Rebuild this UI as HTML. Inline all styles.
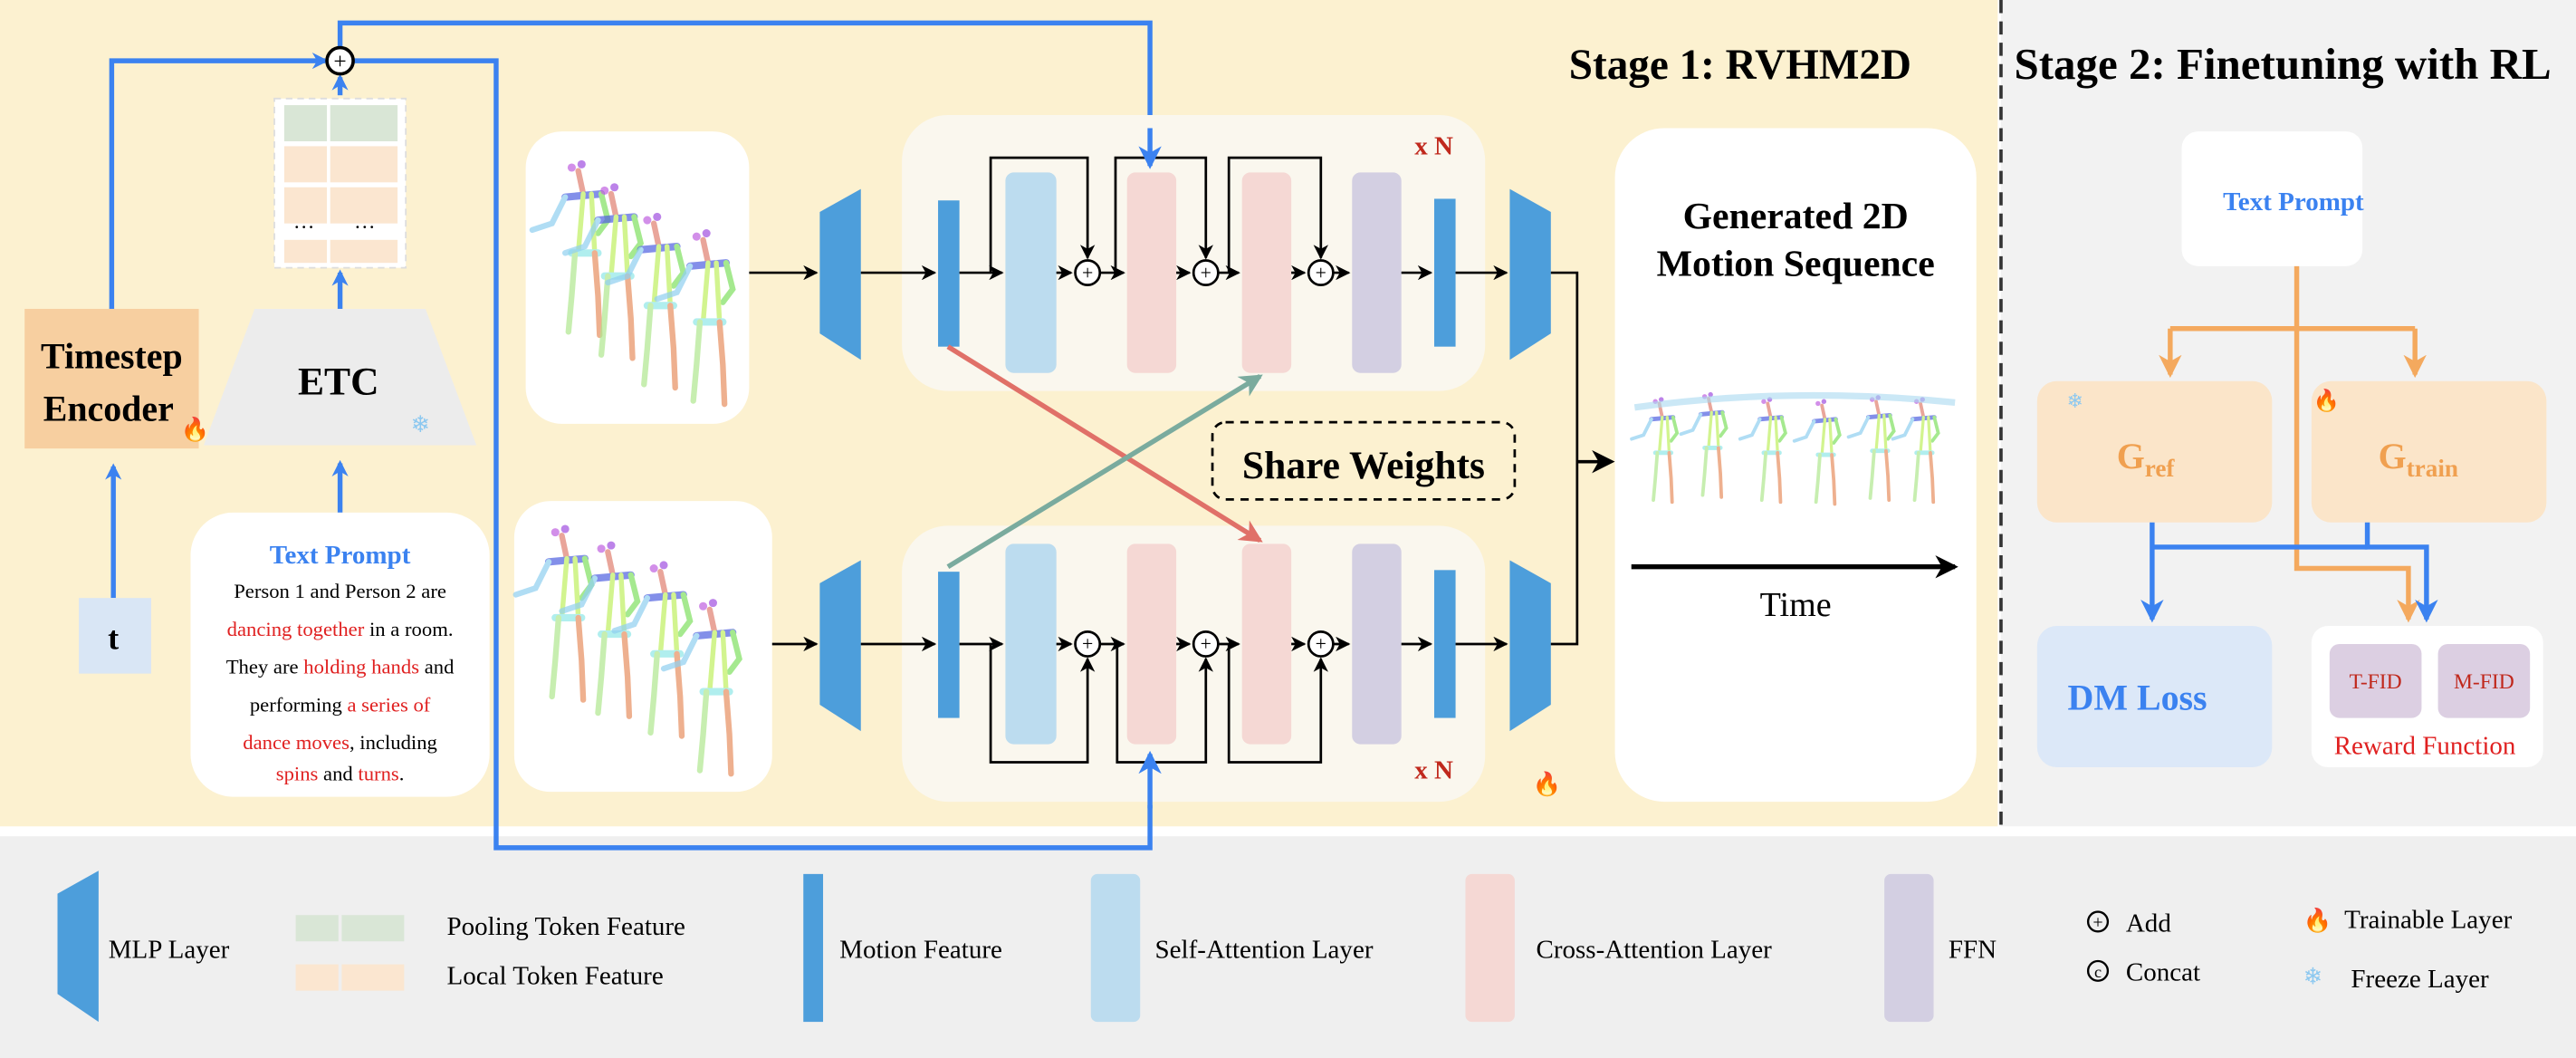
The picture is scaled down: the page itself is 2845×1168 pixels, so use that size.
<!DOCTYPE html>
<html><head><meta charset="utf-8"><style>
html,body{margin:0;padding:0;background:#fff}
svg{display:block}
text{font-family:"Liberation Serif",serif}
</style></head><body>
<svg width="2845" height="1168" viewBox="0 0 1568 644" preserveAspectRatio="none" xmlns="http://www.w3.org/2000/svg">
<defs>
<marker id="ab" markerWidth="10" markerHeight="10" refX="8" refY="5" orient="auto" markerUnits="userSpaceOnUse"><path d="M0,0 L10,5 L0,10 L3,5z" fill="#3b82f0"/></marker>
<marker id="ak" markerWidth="9" markerHeight="9" refX="8" refY="4.5" orient="auto" markerUnits="userSpaceOnUse"><path d="M0,0 L9,4.5 L0,9 L2.5,4.5z" fill="#000"/></marker>
<marker id="akb" markerWidth="14" markerHeight="14" refX="12" refY="7" orient="auto" markerUnits="userSpaceOnUse"><path d="M0,0 L14,7 L0,14 L4,7z" fill="#000"/></marker>
<marker id="ar" markerWidth="14" markerHeight="14" refX="12" refY="7" orient="auto" markerUnits="userSpaceOnUse"><path d="M0,0 L14,7 L0,14 L4,7z" fill="#e07068"/></marker>
<marker id="ag" markerWidth="14" markerHeight="14" refX="12" refY="7" orient="auto" markerUnits="userSpaceOnUse"><path d="M0,0 L14,7 L0,14 L4,7z" fill="#7aab9e"/></marker>
<marker id="ao" markerWidth="14" markerHeight="14" refX="12" refY="7" orient="auto" markerUnits="userSpaceOnUse"><path d="M0,0 L14,7 L0,14 L4,7z" fill="#f4a95e"/></marker>
<marker id="ab2" markerWidth="14" markerHeight="14" refX="12" refY="7" orient="auto" markerUnits="userSpaceOnUse"><path d="M0,0 L14,7 L0,14 L4,7z" fill="#3b82f0"/></marker>
<g id="fig" stroke-linecap="round" fill="none" opacity="0.7">
<circle cx="-4" cy="-6" r="2.5" fill="#c060e0" stroke="none"/><circle cx="2" cy="-8" r="2.5" fill="#a050e0" stroke="none"/>
<path d="M0,-4 L3,10" stroke="#e08070" stroke-width="3.5"/>
<path d="M-8,12 L14,10" stroke="#5060e0" stroke-width="4.5"/>
<path d="M-8,12 L-16,28 L-28,32" stroke="#90d0f0" stroke-width="3.5"/>
<path d="M14,10 L18,26 L12,34" stroke="#80e060" stroke-width="3.5"/>
<path d="M3,10 L0,46 M8,10 L10,46" stroke="#c0f060" stroke-width="3"/>
<path d="M-4,46 L12,46" stroke="#90e8e8" stroke-width="4.5"/>
<path d="M-2,46 L-4,72 L-6,94" stroke="#b0e890" stroke-width="3.5"/>
<path d="M10,46 L12,72 L13,96" stroke="#e89060" stroke-width="3.5"/>
</g>
</defs>
<rect x="0" y="0" width="1568" height="644" fill="#fff"/>
<rect x="0" y="0" width="1216" height="503" fill="#fcf1d0"/>
<rect x="1218" y="0" width="350" height="503" fill="#f2f2f2"/>
<line x1="1218" y1="0" x2="1218" y2="503" stroke="#333" stroke-width="2" stroke-dasharray="8,5"/>
<rect x="0" y="509" width="1568" height="135" fill="#efefef"/>

<text x="955" y="48" font-size="26" font-weight="bold">Stage 1: RVHM2D</text>
<text x="1226" y="48" font-size="27" font-weight="bold">Stage 2: Finetuning with RL</text>

<g stroke="#3b82f0" stroke-width="3" fill="none">
<path d="M68,188 L68,37 L198,37" marker-end="url(#ab)"/>
<path d="M207,29 L207,14 L700,14 L700,80"/>
<path d="M215,37 L302,37 L302,516 L700,516 L700,490"/>
<path d="M207,58 L207,47" marker-end="url(#ab)"/>
<path d="M207,188 L207,166" marker-end="url(#ab)"/>
<path d="M207,312 L207,282" marker-end="url(#ab)"/>
<path d="M69,364 L69,284" marker-end="url(#ab)"/>
</g>
<circle cx="207" cy="37" r="8" fill="#fff" stroke="#000" stroke-width="2"/>
<text x="207" y="42" font-size="14" text-anchor="middle">+</text>

<rect x="167" y="60" width="80" height="103" fill="#fff" stroke="#ddd" stroke-dasharray="4,3"/>
<rect x="173" y="64" width="26" height="22" fill="#d9e6d6"/><rect x="201" y="64" width="41" height="22" fill="#d9e6d6"/>
<rect x="173" y="89" width="26" height="22" fill="#fbe6d0"/><rect x="201" y="89" width="41" height="22" fill="#fbe6d0"/>
<rect x="173" y="114" width="26" height="22" fill="#fbe6d0"/><rect x="201" y="114" width="41" height="22" fill="#fbe6d0"/>
<text x="185" y="139" font-size="13" text-anchor="middle">…</text><text x="222" y="139" font-size="13" text-anchor="middle">…</text>
<rect x="173" y="146" width="26" height="14" fill="#fbe6d0"/><rect x="201" y="146" width="41" height="14" fill="#fbe6d0"/>

<rect x="15" y="188" width="106" height="85" fill="#f7cfa0"/>
<text x="68" y="224" font-size="22" font-weight="bold" text-anchor="middle">Timestep</text>
<text x="66" y="256" font-size="22" font-weight="bold" text-anchor="middle">Encoder</text>
<text x="110" y="266" font-size="14">🔥</text>
<path d="M155,188 L259,188 L290,271 L124,271z" fill="#ececec"/>
<text x="206" y="240" font-size="24" font-weight="bold" text-anchor="middle">ETC</text>
<text x="250" y="263" font-size="14" fill="#8cc8f0">❄</text>

<rect x="48" y="364" width="44" height="46" fill="#d9e6f5"/>
<text x="69" y="395" font-size="20" font-weight="bold" text-anchor="middle">t</text>

<rect x="116" y="312" width="182" height="173" rx="26" fill="#fff"/>
<g font-size="12.5" text-anchor="middle">
<text x="207" y="343" font-size="16" font-weight="bold" fill="#3b82f0">Text Prompt</text>
<text x="207" y="364">Person 1 and Person 2 are</text>
<text x="207" y="387"><tspan fill="#e02020">dancing together</tspan> in a room.</text>
<text x="207" y="410">They are <tspan fill="#e02020">holding hands</tspan> and</text>
<text x="207" y="433">performing <tspan fill="#e02020">a series of</tspan></text>
<text x="207" y="456"><tspan fill="#e02020">dance moves</tspan>, including</text>
<text x="207" y="475"><tspan fill="#e02020">spins</tspan> and <tspan fill="#e02020">turns</tspan>.</text>
</g>

<rect x="320" y="80" width="136" height="178" rx="22" fill="#fff"/>
<use href="#fig" x="352" y="108"/><use href="#fig" x="372" y="122"/><use href="#fig" x="398" y="140"/><use href="#fig" x="428" y="150"/>
<rect x="313" y="305" width="157" height="177" rx="22" fill="#fff"/>
<use href="#fig" x="342" y="330"/><use href="#fig" x="370" y="340"/><use href="#fig" x="402" y="352"/><use href="#fig" x="432" y="375"/>

<rect x="549" y="70" width="355" height="168" rx="28" fill="#faf7ee"/>
<rect x="549" y="320" width="355" height="168" rx="28" fill="#faf7ee"/>
<text x="861" y="94" font-size="16" font-weight="bold" fill="#c0281c">x N</text>
<text x="861" y="474" font-size="16" font-weight="bold" fill="#c0281c">x N</text>
<text x="933" y="482" font-size="14">🔥</text>

<g id="row">
<path d="M499,129 L524,115 L524,219 L499,203z" fill="#4d9edb"/>
<rect x="571" y="122" width="13" height="89" fill="#4d9edb"/>
<rect x="612" y="105" width="31" height="122" rx="5" fill="#bcdcef"/>
<rect x="686" y="105" width="30" height="122" rx="5" fill="#f5d8d4"/>
<rect x="756" y="105" width="30" height="122" rx="5" fill="#f5d8d4"/>
<rect x="823" y="105" width="30" height="122" rx="5" fill="#d3cfe2"/>
<rect x="873" y="121" width="13" height="90" fill="#4d9edb"/>
<path d="M919,115 L944,129 L944,203 L919,219z" fill="#4d9edb"/>
</g>
<g stroke="#000" stroke-width="1.5" fill="none">
<path d="M456,166 L497,166" marker-end="url(#ak)"/>
<path d="M524,166 L569,166" marker-end="url(#ak)"/>
<path d="M584,166 L610,166" marker-end="url(#ak)"/>
<path d="M643,166 L652,166" marker-end="url(#ak)"/>
<path d="M670,166 L684,166" marker-end="url(#ak)"/>
<path d="M716,166 L724,166" marker-end="url(#ak)"/>
<path d="M742,166 L754,166" marker-end="url(#ak)"/>
<path d="M786,166 L794,166" marker-end="url(#ak)"/>
<path d="M812,166 L821,166" marker-end="url(#ak)"/>
<path d="M853,166 L871,166" marker-end="url(#ak)"/>
<path d="M886,166 L917,166" marker-end="url(#ak)"/>
<path d="M603,166 L603,96 L662,96 L662,157" marker-end="url(#ak)"/>
<path d="M679,166 L679,96 L734,96 L734,157" marker-end="url(#ak)"/>
<path d="M748,166 L748,96 L804,96 L804,157" marker-end="url(#ak)"/>
</g>
<g fill="#fff" stroke="#000" stroke-width="1.5"><circle cx="662" cy="166" r="7.5"/><circle cx="734" cy="166" r="7.5"/><circle cx="804" cy="166" r="7.5"/></g>
<g font-size="12" text-anchor="middle"><text x="662" y="170">+</text><text x="734" y="170">+</text><text x="804" y="170">+</text></g>

<use href="#row" x="0" y="226"/>
<g stroke="#000" stroke-width="1.5" fill="none">
<path d="M470,392 L497,392" marker-end="url(#ak)"/>
<path d="M524,392 L569,392" marker-end="url(#ak)"/>
<path d="M584,392 L610,392" marker-end="url(#ak)"/>
<path d="M643,392 L652,392" marker-end="url(#ak)"/>
<path d="M670,392 L684,392" marker-end="url(#ak)"/>
<path d="M716,392 L724,392" marker-end="url(#ak)"/>
<path d="M742,392 L754,392" marker-end="url(#ak)"/>
<path d="M786,392 L794,392" marker-end="url(#ak)"/>
<path d="M812,392 L821,392" marker-end="url(#ak)"/>
<path d="M853,392 L871,392" marker-end="url(#ak)"/>
<path d="M886,392 L917,392" marker-end="url(#ak)"/>
<path d="M603,392 L603,464 L662,464 L662,401" marker-end="url(#ak)"/>
<path d="M680,392 L680,464 L734,464 L734,401" marker-end="url(#ak)"/>
<path d="M748,392 L748,464 L804,464 L804,401" marker-end="url(#ak)"/>
<path d="M944,166 L960,166 L960,392 L944,392"/>
<path d="M960,281 L981,281" marker-end="url(#akb)" stroke-width="2"/>
</g>
<g fill="#fff" stroke="#000" stroke-width="1.5"><circle cx="662" cy="392" r="7.5"/><circle cx="734" cy="392" r="7.5"/><circle cx="804" cy="392" r="7.5"/></g>
<g font-size="12" text-anchor="middle"><text x="662" y="396">+</text><text x="734" y="396">+</text><text x="804" y="396">+</text></g>

<!-- blue into cross-attn (on top of panels) -->
<g stroke="#3b82f0" stroke-width="3" fill="none">
<path d="M700,78 L700,101" marker-end="url(#ab2)"/>
<path d="M700,492 L700,459" marker-end="url(#ab2)"/>
</g>

<path d="M577,211 L767,329" stroke="#e07068" stroke-width="3" marker-end="url(#ar)"/>
<path d="M577,345 L767,229" stroke="#7aab9e" stroke-width="3" marker-end="url(#ag)"/>
<rect x="738" y="257" width="184" height="47" rx="8" fill="none" stroke="#000" stroke-width="1.5" stroke-dasharray="5,4"/>
<text x="830" y="291" font-size="24" font-weight="bold" text-anchor="middle">Share Weights</text>

<rect x="983" y="78" width="220" height="410" rx="30" fill="#fff"/>
<text x="1093" y="139" font-size="23" font-weight="bold" text-anchor="middle">Generated 2D</text>
<text x="1093" y="168" font-size="23" font-weight="bold" text-anchor="middle">Motion Sequence</text>
<g transform="translate(1010,248) scale(0.6)"><use href="#fig" x="0" y="0"/><use href="#fig" x="50" y="-5"/><use href="#fig" x="110" y="0"/><use href="#fig" x="165" y="2"/><use href="#fig" x="220" y="-2"/><use href="#fig" x="265" y="0"/></g>
<path d="M995,248 Q1090,235 1190,245" stroke="#a8d8f0" stroke-width="4" fill="none" opacity="0.6"/>
<path d="M993,345 L1190,345" stroke="#000" stroke-width="3" marker-end="url(#akb)"/>
<text x="1093" y="375" font-size="21" text-anchor="middle">Time</text>

<rect x="1328" y="80" width="110" height="82" rx="10" fill="#fff"/>
<text x="1396" y="128" font-size="16" font-weight="bold" fill="#3b82f0" text-anchor="middle">Text Prompt</text>
<g stroke="#f4a95e" stroke-width="3" fill="none">
<path d="M1398,162 L1398,200"/>
<path d="M1321,200 L1470,200"/>
<path d="M1321,200 L1321,228" marker-end="url(#ao)"/>
<path d="M1470,200 L1470,228" marker-end="url(#ao)"/>
<path d="M1398,200 L1398,346 L1466,346 L1466,377" marker-end="url(#ao)"/>
</g>
<rect x="1240" y="232" width="143" height="86" rx="12" fill="#fbe5c9"/>
<rect x="1407" y="232" width="143" height="86" rx="12" fill="#fbe5c9"/>
<text x="1258" y="248" font-size="12" fill="#8cc8f0">❄</text>
<text x="1408" y="248" font-size="13">🔥</text>
<text x="1306" y="285" font-size="22" font-weight="bold" fill="#f0a050" text-anchor="middle">G<tspan font-size="15" dy="5">ref</tspan></text>
<text x="1472" y="285" font-size="22" font-weight="bold" fill="#f0a050" text-anchor="middle">G<tspan font-size="15" dy="5">train</tspan></text>
<g stroke="#3b82f0" stroke-width="3" fill="none">
<path d="M1310,318 L1310,377" marker-end="url(#ab2)"/>
<path d="M1310,333 L1441,333"/>
<path d="M1441,318 L1441,333 L1477,333 L1477,377" marker-end="url(#ab2)"/>
</g>
<rect x="1240" y="381" width="143" height="86" rx="12" fill="#dce8f8"/>
<text x="1301" y="432" font-size="22" font-weight="bold" fill="#3b82f0" text-anchor="middle">DM Loss</text>
<rect x="1407" y="381" width="141" height="86" rx="10" fill="#fff"/>
<rect x="1418" y="392" width="56" height="45" rx="6" fill="#dccfe2"/>
<rect x="1484" y="392" width="56" height="45" rx="6" fill="#dccfe2"/>
<text x="1446" y="419" font-size="13" fill="#c0281c" text-anchor="middle">T-FID</text>
<text x="1512" y="419" font-size="13" fill="#c0281c" text-anchor="middle">M-FID</text>
<text x="1476" y="459" font-size="16" fill="#e02020" text-anchor="middle">Reward Function</text>

<path d="M35,544 L60,530 L60,622 L35,605z" fill="#4d9edb"/>
<text x="66" y="583" font-size="16">MLP Layer</text>
<rect x="180" y="557" width="26" height="16" fill="#d9e6d6"/><rect x="208" y="557" width="38" height="16" fill="#d9e6d6"/>
<rect x="180" y="587" width="26" height="16" fill="#fbe6d0"/><rect x="208" y="587" width="38" height="16" fill="#fbe6d0"/>
<text x="272" y="569" font-size="16">Pooling Token Feature</text>
<text x="272" y="599" font-size="16">Local Token Feature</text>
<rect x="489" y="532" width="12" height="90" fill="#4d9edb"/>
<text x="511" y="583" font-size="16">Motion Feature</text>
<rect x="664" y="532" width="30" height="90" rx="4" fill="#bcdcef"/>
<text x="703" y="583" font-size="16">Self-Attention Layer</text>
<rect x="892" y="532" width="30" height="90" rx="4" fill="#f5d8d4"/>
<text x="935" y="583" font-size="16">Cross-Attention Layer</text>
<rect x="1147" y="532" width="30" height="90" rx="4" fill="#d3cfe2"/>
<text x="1186" y="583" font-size="16">FFN</text>
<circle cx="1277" cy="561" r="6" fill="none" stroke="#000" stroke-width="1.3"/><text x="1277" y="565" font-size="11" text-anchor="middle">+</text>
<text x="1294" y="567" font-size="16">Add</text>
<circle cx="1277" cy="591" r="6" fill="none" stroke="#000" stroke-width="1.3"/><text x="1277" y="595" font-size="10" text-anchor="middle">c</text>
<text x="1294" y="597" font-size="16">Concat</text>
<text x="1402" y="565" font-size="14">🔥</text>
<text x="1427" y="565" font-size="16">Trainable Layer</text>
<text x="1402" y="599" font-size="14" fill="#8cc8f0">❄</text>
<text x="1431" y="601" font-size="16">Freeze Layer</text>
</svg>
</body></html>
